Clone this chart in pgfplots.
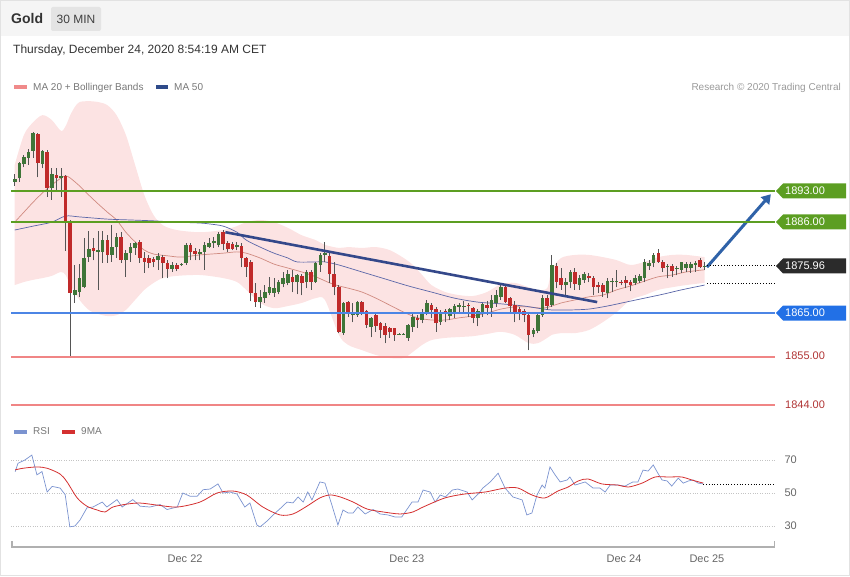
\documentclass[border=0pt]{standalone}
\usepackage{fontspec}
\setmainfont{Liberation Sans}
\usepackage{pgfplots}
\usepackage{pgfplotstable}
\pgfplotsset{compat=1.18}
\usepgfplotslibrary{fillbetween}
\usetikzlibrary{arrows.meta}
\newcommand\fs[1]{\fontsize{#1}{#1}\selectfont}
\definecolor{hdr}{HTML}{F5F5F5}
\definecolor{borderc}{HTML}{E2E2E2}
\definecolor{tagbg}{HTML}{E4E4E4}
\definecolor{upc}{HTML}{3F7538}
\definecolor{dnc}{HTML}{C02A2A}
\definecolor{wickc}{HTML}{555555}
\definecolor{bbfill}{HTML}{FCE3E3}
\definecolor{ma20c}{HTML}{D08A80}
\definecolor{ma50c}{HTML}{5A66A8}
\definecolor{trendc}{HTML}{34488A}
\definecolor{arrowc}{HTML}{2F62A8}
\definecolor{glinec}{HTML}{5C9E22}
\definecolor{levblue}{rgb}{0.30,0.52,0.90}
\definecolor{bboxc}{HTML}{2270E6}
\definecolor{levred}{rgb}{0.94,0.52,0.52}
\definecolor{rtxt}{HTML}{B03434}
\definecolor{blkbox}{HTML}{2B2B2B}
\definecolor{legc}{HTML}{777777}
\definecolor{tickc}{HTML}{666666}
\definecolor{gridc}{HTML}{C4C4C4}
\definecolor{axgray}{HTML}{B0B0B0}
\definecolor{rsic}{HTML}{7B93D0}
\definecolor{nmac}{HTML}{D43030}
\definecolor{ma20leg}{HTML}{F08A8A}
\definecolor{ma50leg}{HTML}{2F4B8A}

\pgfplotstableread{
i o h l c
0 1895.1 1896.9 1894.2 1895.8
1 1896.0 1899.7 1895.1 1899.4
2 1899.2 1901.3 1898.5 1900.8
3 1900.6 1902.6 1899.0 1901.9
4 1902.2 1906.5 1900.6 1906.3
6 1899.2 1902.4 1898.3 1902.2
8 1893.7 1898.3 1891.0 1896.9
10 1896.0 1898.3 1891.7 1896.5
13 1869.2 1876.1 1867.4 1870.4
14 1869.9 1876.3 1868.8 1873.1
15 1871.0 1882.3 1870.8 1877.7
16 1877.9 1883.9 1876.8 1879.7
18 1879.1 1883.9 1870.4 1879.5
19 1879.1 1883.9 1876.6 1881.8
21 1878.4 1885.2 1876.8 1880.2
22 1880.2 1883.4 1877.7 1882.5
24 1877.2 1879.5 1873.4 1878.8
25 1878.8 1881.1 1876.8 1880.2
26 1880.0 1881.4 1878.4 1881.1
31 1877.2 1878.8 1875.0 1878.2
34 1875.2 1876.8 1874.5 1876.1
36 1876.1 1876.6 1875.9 1876.3
37 1876.6 1881.1 1876.1 1880.7
40 1878.6 1879.7 1877.2 1879.1
41 1879.1 1881.4 1875.0 1880.7
42 1880.2 1882.3 1880.0 1881.1
43 1881.1 1882.5 1880.0 1881.6
44 1880.7 1883.6 1880.2 1883.2
48 1880.2 1881.4 1879.5 1880.7
53 1867.6 1870.4 1866.2 1868.8
54 1868.5 1871.5 1867.4 1869.9
55 1869.7 1873.4 1869.2 1871.0
56 1869.7 1873.1 1868.8 1870.8
57 1869.9 1872.7 1869.4 1872.2
58 1871.7 1874.5 1871.0 1873.1
59 1872.0 1875.0 1871.5 1874.0
61 1872.2 1874.0 1869.4 1873.8
63 1872.2 1875.0 1870.8 1874.5
65 1872.2 1876.8 1872.0 1876.6
66 1876.1 1878.8 1874.5 1878.4
67 1878.4 1881.4 1876.8 1878.8
71 1860.5 1867.6 1860.1 1867.4
73 1864.6 1867.4 1863.0 1865.1
74 1864.6 1867.8 1864.2 1867.6
77 1861.9 1864.2 1859.6 1864.0
83 1860.2 1860.5 1860.1 1860.4
84 1860.2 1860.5 1860.1 1860.4
85 1859.4 1862.6 1858.7 1862.4
86 1861.9 1864.9 1860.8 1864.2
88 1863.5 1866.0 1862.8 1865.3
89 1865.1 1868.1 1864.6 1867.4
92 1863.0 1865.8 1862.4 1865.3
94 1864.4 1866.2 1863.5 1866.0
95 1864.9 1867.2 1864.0 1866.7
96 1866.5 1867.4 1865.3 1866.9
97 1866.6 1867.8 1865.3 1866.8
100 1864.0 1866.0 1862.1 1865.5
101 1865.3 1867.4 1864.2 1867.1
103 1866.2 1869.2 1864.2 1868.1
104 1867.4 1870.4 1866.5 1869.2
105 1868.8 1872.0 1868.1 1871.0
112 1860.3 1861.7 1859.6 1861.2
113 1861.0 1865.1 1860.5 1864.6
114 1864.6 1869.2 1864.2 1868.5
116 1866.9 1878.4 1866.5 1876.1
119 1871.5 1873.1 1869.2 1872.2
120 1872.2 1875.0 1870.8 1874.5
122 1871.5 1873.8 1870.4 1873.1
123 1872.7 1874.5 1872.0 1874.0
128 1869.7 1873.1 1868.5 1872.4
129 1872.2 1873.1 1869.9 1872.4
130 1872.2 1875.0 1871.0 1872.5
134 1872.0 1873.8 1871.5 1873.1
135 1872.4 1874.0 1872.0 1873.6
136 1873.1 1877.5 1872.2 1876.8
137 1875.9 1877.2 1875.0 1876.6
138 1876.6 1878.8 1875.6 1878.4
141 1875.6 1876.3 1873.1 1875.9
143 1875.2 1875.9 1873.8 1875.4
144 1875.0 1876.8 1874.3 1876.8
145 1875.4 1876.8 1874.5 1876.3
146 1875.4 1876.8 1874.3 1876.3
147 1876.1 1877.0 1874.5 1876.6
149 1875.6 1876.8 1875.0 1875.96
}\up

\pgfplotstableread{
i o h l c
5 1906.1 1906.3 1896.2 1899.4
7 1901.9 1902.4 1891.7 1893.7
9 1896.7 1898.3 1893.3 1896.0
11 1896.5 1896.7 1879.3 1885.9
12 1886.2 1886.4 1855.0 1869.7
17 1880.0 1882.3 1877.2 1879.3
20 1881.8 1882.9 1876.6 1878.4
23 1882.5 1883.6 1876.6 1877.2
27 1881.4 1881.8 1876.6 1877.7
28 1877.7 1879.1 1874.3 1876.8
29 1877.7 1878.4 1875.4 1876.6
30 1877.5 1877.9 1875.6 1876.8
32 1877.9 1878.4 1873.1 1876.6
33 1876.6 1877.2 1873.1 1875.2
35 1876.1 1876.6 1874.7 1875.2
38 1880.7 1881.1 1877.2 1879.1
39 1879.3 1880.0 1877.2 1878.6
45 1883.6 1884.1 1879.5 1880.9
46 1881.1 1881.6 1879.1 1879.7
47 1880.9 1881.4 1879.5 1879.7
49 1880.4 1881.1 1875.6 1877.7
50 1877.7 1877.9 1873.4 1875.6
51 1876.8 1877.2 1867.8 1869.7
52 1869.7 1872.0 1866.5 1867.6
60 1873.4 1875.0 1869.9 1872.2
62 1873.6 1874.0 1869.2 1872.0
64 1874.5 1875.0 1870.4 1872.2
68 1878.2 1878.8 1872.0 1874.0
69 1874.0 1876.8 1869.2 1871.0
70 1871.0 1871.5 1860.5 1860.8
72 1867.6 1867.8 1864.2 1865.1
75 1867.6 1867.8 1864.6 1865.3
76 1865.5 1865.8 1861.7 1862.4
78 1864.6 1864.9 1860.8 1862.1
79 1862.8 1863.0 1859.4 1861.2
80 1862.1 1862.8 1858.2 1860.1
81 1861.7 1861.9 1859.4 1860.8
82 1861.7 1861.7 1858.7 1860.1
87 1864.0 1864.6 1861.7 1863.5
90 1866.9 1867.4 1864.0 1865.8
91 1866.0 1866.5 1860.8 1862.8
93 1865.5 1866.0 1863.0 1864.9
98 1866.9 1867.4 1864.2 1866.7
99 1866.2 1866.5 1862.8 1864.0
102 1866.9 1867.8 1864.6 1866.2
106 1871.0 1871.7 1867.4 1867.6
107 1868.5 1868.8 1865.3 1866.7
108 1866.9 1867.8 1863.0 1865.3
109 1866.0 1866.5 1863.5 1865.3
110 1865.5 1866.0 1863.0 1864.6
111 1864.6 1865.1 1856.6 1860.1
115 1868.5 1869.2 1865.8 1866.7
117 1875.9 1876.6 1870.8 1872.2
118 1873.1 1875.4 1870.4 1871.5
121 1874.5 1875.4 1870.4 1871.7
124 1873.6 1874.3 1872.2 1873.1
125 1873.1 1873.6 1869.2 1871.0
126 1871.5 1872.2 1869.7 1871.0
127 1871.5 1872.0 1868.8 1869.9
131 1872.3 1872.7 1871.5 1872.1
132 1872.7 1873.6 1870.8 1872.0
133 1872.2 1872.7 1870.1 1871.5
139 1878.8 1879.7 1876.6 1876.8
140 1876.8 1877.2 1874.5 1875.4
142 1875.9 1876.3 1873.4 1874.7
148 1877.2 1877.7 1875.4 1875.6
}\down

\pgfplotstableread{
i v
0 1899.0
2 1905.9
4 1908.8
6 1910.4
8 1909.3
10 1906.8
11 1907.9
12 1910.4
13 1912.3
14 1913.4
16 1913.6
18 1913.4
20 1912.7
22 1910.4
24 1905.9
26 1899.0
28 1892.1
30 1887.5
32 1885.2
35 1884.1
40 1883.6
45 1884.1
48 1885.0
50 1885.9
53 1886.4
56 1885.9
59 1884.6
62 1882.9
65 1881.8
67 1880.7
70 1880.0
72 1880.2
75 1880.0
78 1880.2
81 1879.5
84 1877.7
86 1876.1
88 1873.8
90 1871.5
93 1869.9
96 1869.2
99 1869.0
102 1869.9
105 1871.7
108 1872.0
111 1871.0
113 1870.4
115 1870.8
116 1875.0
118 1877.7
121 1878.4
124 1878.4
127 1877.9
130 1877.2
133 1876.1
136 1876.8
139 1877.9
142 1878.4
145 1878.4
149 1877.9
}\bbup

\pgfplotstableread{
i v
0 1871.5
2 1872.2
4 1872.7
6 1873.1
8 1873.6
10 1874.5
11 1873.8
12 1871.5
14 1868.1
16 1865.8
18 1864.9
20 1864.4
22 1864.6
24 1865.8
26 1868.1
28 1870.4
30 1872.0
32 1873.1
35 1873.6
40 1873.8
45 1873.1
48 1872.2
50 1870.4
53 1867.4
56 1866.2
59 1866.7
62 1867.4
65 1868.5
67 1868.1
70 1860.1
72 1857.8
75 1856.6
78 1855.5
81 1854.8
84 1854.8
86 1856.2
88 1857.8
90 1858.9
93 1859.4
96 1859.6
99 1859.8
102 1860.3
105 1860.8
108 1860.1
111 1858.2
113 1858.2
115 1859.4
116 1860.1
118 1860.5
121 1860.5
124 1861.2
127 1863.0
130 1865.3
133 1868.1
136 1869.2
139 1870.4
142 1871.0
145 1871.5
149 1872.0
}\bblo

\pgfplotstableread{
i v
0 1885.9
2 1888.2
4 1890.5
6 1892.6
8 1894.4
10 1896.0
11 1896.5
12 1896.0
14 1894.2
16 1892.1
18 1890.1
20 1888.2
22 1886.4
24 1883.6
26 1881.4
28 1879.5
30 1878.6
33 1878.2
36 1877.9
40 1878.4
45 1878.8
48 1879.1
50 1878.8
53 1877.7
56 1876.3
59 1875.4
62 1874.5
65 1873.4
68 1872.0
70 1871.3
72 1870.8
75 1869.9
78 1868.5
81 1866.9
84 1865.3
87 1864.0
90 1863.5
93 1863.5
96 1864.0
99 1864.4
102 1865.1
105 1866.0
108 1866.5
111 1866.5
114 1866.2
116 1866.7
118 1867.4
121 1868.1
124 1868.8
127 1869.2
130 1870.4
133 1871.3
136 1872.4
139 1873.4
142 1873.8
145 1874.5
149 1875.0
}\maA

\pgfplotstableread{
i v
0 1884.1
4 1885.0
8 1885.9
11 1887.3
14 1887.1
20 1886.6
25 1886.4
30 1886.2
35 1885.9
40 1885.7
42 1885.5
45 1885.0
48 1883.6
50 1881.8
53 1880.2
56 1878.8
59 1877.7
61 1876.8
65 1876.8
67 1876.8
70 1876.1
75 1874.5
80 1872.9
85 1871.3
90 1869.9
95 1868.5
100 1867.6
105 1867.2
110 1866.7
113 1866.2
116 1865.8
120 1865.8
124 1866.0
128 1866.7
132 1867.6
136 1868.5
140 1869.4
144 1870.4
149 1871.5
}\maB

\pgfplotstableread{
x v
0.1 62.9
0.7 68
2.2 70
3.7 73
4.8 61
5.9 63
7.0 50.6
8.1 54
9.8 53
10.9 49
11.9 29.5
13.0 30
14.1 33.6
15.6 41
16.9 41.5
18.9 44.5
19.9 41.5
22.1 46
23.2 41.5
25.5 46
27.1 42
29.2 41.5
31.4 43
32.9 40
35.1 41.5
36.3 50
37.9 48
39.4 48
40.7 52
42.2 52.4
43.9 55.5
45.0 50
46.5 50.6
48.0 49.4
49.7 41.5
50.8 44
52.3 30.6
53.0 29.5
54.5 33
55.8 36.7
57.7 41.5
58.8 44.5
60.1 44
61.2 47.6
62.3 44.5
63.3 50.6
64.2 45.8
65.9 56.7
67.0 56
68.5 42.7
69.8 30.6
70.9 39.7
72.0 37.9
73.1 37.9
74.1 41.5
75.7 37.3
77.4 40
78.9 37.3
80.6 36.7
82.1 35.5
83.6 35.5
84.7 40
85.8 44.5
87.1 44.5
88.2 51.8
89.7 50.6
90.8 44.5
91.9 48.8
93.0 47.6
94.5 51.8
95.7 52.4
97.7 50.6
98.8 45.8
100.1 49.4
101.1 53
102.7 56.7
104.4 62
105.9 53
107.6 47.6
109.6 45.8
110.6 36.7
111.7 37.9
112.8 48.8
113.9 54.8
114.5 53
115.6 65.8
116.7 61
117.8 56.7
119.3 57.9
119.9 59.7
121.0 54.8
123.2 56.7
124.9 53
126.4 53
127.5 50.6
128.6 54.8
130.3 54.8
131.8 54.2
133.5 56.7
134.6 56.7
135.7 63.9
136.8 63.3
137.9 67
138.9 62
139.8 57.9
140.9 57.3
141.9 54.2
143.3 59
144.4 56
145.5 57.3
146.5 57.9
147.6 56
148.7 55.5
}\rsi

\pgfplotstableread{
x v
0.1 64
1.8 65
4.8 65.8
7.0 65
9.8 61.5
11.3 56.7
13.5 47
15.6 42
17.8 39.7
19.5 38.5
21.2 41.5
24.3 43.3
27.1 43.9
30.7 42.7
35.1 41.5
40.0 44.5
43.7 50
47.1 51.2
50.1 48.8
53.6 41.5
57.3 36.7
60.1 37.3
63.1 42
65.9 47
68.1 48.8
70.3 47.6
73.1 44.5
76.1 40.3
79.6 38.5
83.2 37.3
86.0 38.5
88.2 41.5
92.9 47
97.2 49.4
101.6 50.6
105.9 53
108.7 53
111.7 48.8
114.5 47
117.3 51.2
119.5 53.6
121.7 57.3
123.8 58.5
126.8 55.5
130.3 54.8
132.5 53.6
135.5 56
138.3 59.7
141.1 59.7
144.1 59.7
146.2 57.9
148.7 56
}\nma

\pgfplotsset{
  errbase/.style={only marks, mark=*, mark size=0pt, mark options={draw=none, fill=none}, forget plot},
}

\newcommand\plabel[4]{%
  \fill[#2] (776pt,#1pt) -- (783pt,#1pt+7.5pt) -- (846pt,#1pt+7.5pt) -- (846pt,#1pt-7.5pt) -- (783pt,#1pt-7.5pt) -- cycle;
  \node[anchor=west, text=#3, font=\fs{11}, inner sep=0pt] at (785pt,#1pt) {#4};}

\begin{document}
\begin{tikzpicture}
\fill[hdr] (0pt,540pt) rectangle (850pt,576pt);
\draw[borderc, line width=1pt] (0.5pt,0.5pt) rectangle (849.5pt,575.5pt);

\begin{axis}[at={(11pt,161pt)}, anchor=south west, scale only axis,
  width=764pt, height=315pt, xmin=-0.8, xmax=164.2, ymin=1841.75, ymax=1913.87,
  hide axis, clip=false]
  \addplot[name path=bu, draw=none, smooth, forget plot] table[x=i,y=v] {\bbup};
  \addplot[name path=bl, draw=none, smooth, forget plot] table[x=i,y=v] {\bblo};
  \addplot[fill=bbfill, draw=none, forget plot] fill between[of=bu and bl];
  \addplot[draw=ma20c, line width=0.7pt, smooth] table[x=i,y=v] {\maA};
  \addplot[draw=ma50c, line width=0.7pt, smooth] table[x=i,y=v] {\maB};
  % wicks
  \addplot[errbase, error bars/.cd, y dir=plus, y explicit, error mark=none,
    error bar style={line width=1pt, draw=wickc}]
    table[x=i, y=l, y error plus expr=\thisrow{h}-\thisrow{l}] {\up};
  \addplot[errbase, error bars/.cd, y dir=plus, y explicit, error mark=none,
    error bar style={line width=1pt, draw=wickc}]
    table[x=i, y=l, y error plus expr=\thisrow{h}-\thisrow{l}] {\down};
  % bodies
  \addplot[errbase, error bars/.cd, y dir=plus, y explicit, error mark=none,
    error bar style={line width=3.6pt, draw=upc}]
    table[x=i, y=o, y error plus expr=\thisrow{c}-\thisrow{o}] {\up};
  \addplot[errbase, error bars/.cd, y dir=plus, y explicit, error mark=none,
    error bar style={line width=3.6pt, draw=dnc}]
    table[x=i, y=c, y error plus expr=\thisrow{o}-\thisrow{c}] {\down};
  \addplot[draw=trendc, line width=2.6pt] coordinates {(45.5,1883.6) (125.8,1867.6)};
  \addplot[draw=arrowc, line width=3pt, -{Triangle[length=9pt,width=11pt]}] coordinates {(149.5,1875.6) (163.3,1892.3)};
\end{axis}

\begin{axis}[at={(11pt,29pt)}, anchor=south west, scale only axis,
  width=764pt, height=102pt, xmin=-0.8, xmax=164.2, ymin=17.27, ymax=79.09,
  axis x line*=bottom, axis y line*=right,
  axis line style={-},
  x axis line style={draw=axgray, line width=1.6pt},
  y axis line style={draw=none},
  xtick={36.8,84.7,131.6,149.5}, xticklabels={Dec 22,Dec 23,Dec 24,Dec 25},
  ytick={30,50,70}, yticklabels={30,50,70},
  major tick length=0pt, ymajorgrids,
  grid style={gridc, dotted, line width=0.7pt},
  tick label style={font=\fs{11}, text=tickc},
  yticklabel style={xshift=6pt},
  xticklabel style={yshift=-4pt},
  clip=false]
  \addplot[draw=rsic, line width=0.7pt] table[x=x,y=v] {\rsi};
  \addplot[draw=nmac, line width=0.8pt, smooth] table[x=x,y=v] {\nma};
  \draw[black, dotted, line width=0.8pt] (axis cs:148.7,55.5) -- (axis cs:164.2,55.5);
\end{axis}
\draw[axgray, line width=1.5pt] (11.75pt,29pt) -- (11.75pt,35pt);
\draw[axgray, line width=1.5pt] (774.25pt,29pt) -- (774.25pt,35pt);

% horizontal levels (1893, 1886, 1865, 1855, 1844)
\fill[glinec] (11pt,383.9pt) rectangle (775pt,385.9pt);
\fill[glinec] (11pt,353.3pt) rectangle (775pt,355.3pt);
\fill[levblue] (11pt,261.6pt) rectangle (775pt,263.6pt);
\fill[levred] (11pt,218.0pt) rectangle (775pt,219.8pt);
\fill[levred] (11pt,169.9pt) rectangle (775pt,171.7pt);
\draw[black, dotted, line width=0.8pt] (707pt,310.4pt) -- (775pt,310.4pt);
\draw[black, dotted, line width=0.8pt] (707pt,292.4pt) -- (775pt,292.4pt);

% right price labels
\plabel{385}{glinec}{white}{1893.00}
\plabel{354}{glinec}{white}{1886.00}
\plabel{310}{blkbox}{white}{1875.96}
\plabel{263}{bboxc}{white}{1865.00}
\node[anchor=west, text=rtxt, font=\fs{11}, inner sep=0pt] at (785pt,220pt) {1855.00};
\node[anchor=west, text=rtxt, font=\fs{11}, inner sep=0pt] at (785pt,171pt) {1844.00};

% header
\node[anchor=west, font=\bfseries\fs{14}, text=black!80, inner sep=0pt] at (11pt,557pt) {Gold};
\node[fill=tagbg, rounded corners=2pt, minimum width=50pt, minimum height=24pt, font=\fs{12}, text=black!75, inner sep=0pt] at (76pt,557pt) {30 MIN};
\node[anchor=west, font=\fs{12}, text=black!80, inner sep=0pt] at (13pt,526pt) {Thursday, December 24, 2020 8:54:19 AM CET};

% legends
\fill[ma20leg] (14pt,486.5pt) rectangle (27pt,490.5pt);
\node[anchor=west, font=\fs{10}, text=legc, inner sep=0pt] at (33pt,488.5pt) {MA 20 + Bollinger Bands};
\fill[ma50leg] (156pt,486.5pt) rectangle (168pt,490.5pt);
\node[anchor=west, font=\fs{10}, text=legc, inner sep=0pt] at (174pt,488.5pt) {MA 50};
\node[anchor=east, font=\fs{10}, text=black!40, inner sep=0pt] at (841pt,488.5pt) {Research © 2020 Trading Central};
\fill[rsic] (14pt,142.5pt) rectangle (27pt,146.5pt);
\node[anchor=west, font=\fs{10}, text=legc, inner sep=0pt] at (33pt,144.5pt) {RSI};
\fill[nmac] (62pt,142.5pt) rectangle (75pt,146.5pt);
\node[anchor=west, font=\fs{10}, text=legc, inner sep=0pt] at (81pt,144.5pt) {9MA};
\pgfresetboundingbox
\path[use as bounding box] (0pt,0pt) rectangle (850pt,576pt);
\end{tikzpicture}
\end{document}
